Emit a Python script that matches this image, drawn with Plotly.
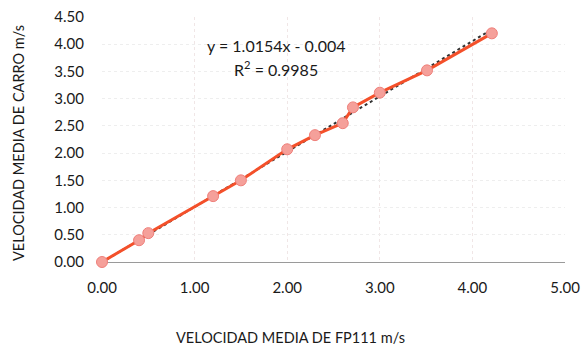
import plotly.graph_objects as go

fp111 = [0.00, 0.40, 0.50, 1.20, 1.50, 2.00, 2.30, 2.60, 2.71, 3.00, 3.51, 4.21]
carro = [0.00, 0.40, 0.53, 1.21, 1.50, 2.07, 2.33, 2.55, 2.84, 3.11, 3.52, 4.20]
slope, intercept = 1.0154, -0.004
trend_x = [0.0, 4.21]
trend_y = [slope * v + intercept for v in trend_x]
ticks = [0, 0.5, 1, 1.5, 2, 2.5, 3, 3.5, 4, 4.5]
xticks = [0, 1, 2, 3, 4, 5]

font = "Lato, 'Open Sans', sans-serif"
L, R, T, B = 102, 20, 17, 84

fig = go.Figure()
fig.add_trace(go.Scatter(x=trend_x, y=trend_y, mode="lines",
                         line=dict(color="#333333", width=2, dash="dot"),
                         showlegend=False, hoverinfo="skip", cliponaxis=False))
fig.add_trace(go.Scatter(x=fp111, y=carro, mode="lines+markers",
                         line=dict(color="#f4502a", width=3),
                         marker=dict(size=11, color="#f5a09a",
                                     line=dict(color="#ef7f7a", width=1)),
                         showlegend=False, cliponaxis=False))

fig.update_layout(
    width=585, height=346,
    margin=dict(l=L, r=R, t=T, b=B),
    paper_bgcolor="white", plot_bgcolor="white",
    font=dict(family=font, size=15, color="#1a1a1a"),
    xaxis=dict(range=[0, 5], tickvals=xticks, tickformat=".2f", automargin=False,
               showgrid=True, gridcolor="#f0e6e6", griddash="dot",
               zeroline=False, showline=False,
               ticks="outside", ticklen=12, tickcolor="rgba(0,0,0,0)"),
    yaxis=dict(range=[0, 4.5], tickvals=ticks, tickformat=".2f", automargin=False,
               showgrid=True, gridcolor="#eeeeee", griddash="dot",
               zeroline=True, zerolinecolor="#9a9a9a", zerolinewidth=1,
               showline=False,
               ticks="outside", ticklen=14, tickcolor="rgba(0,0,0,0)"),
    annotations=[
        dict(text="y = 1.0154x - 0.004", x=276, y=45, xref="paper", yref="paper",
             showarrow=False, font=dict(size=16)),
        dict(text="R<sup>2</sup> = 0.9985", x=276, y=68, xref="paper", yref="paper",
             showarrow=False, font=dict(size=16)),
        dict(text="VELOCIDAD MEDIA DE FP111 m/s", x=290, y=337, xref="paper",
             yref="paper", showarrow=False, font=dict(size=14.5)),
        dict(text="VELOCIDAD MEDIA DE CARRO m/s", x=18, y=143, xref="paper",
             yref="paper", showarrow=False, textangle=-90, font=dict(size=14.5)),
    ],
)

# convert pixel positions of annotations to paper coords
pw = 585 - L - R
ph = 346 - T - B
for a in fig.layout.annotations:
    px, py = a.x, a.y
    a.x = (px - L) / pw
    a.y = (346 - B - py) / ph
    a.xanchor = "center"
    a.yanchor = "middle"

fig.write_html("out.html")
